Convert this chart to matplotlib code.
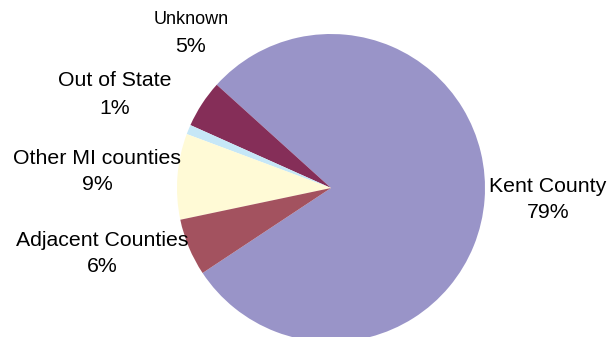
import matplotlib.pyplot as plt

# Share of records by place of residence
categories = ["Kent County", "Unknown", "Out of State", "Other MI counties", "Adjacent Counties"]
shares = [79, 5, 1, 9, 6]
colors = ["#9994c8", "#852e58", "#c6e7f7", "#fffad6", "#a3525f"]

plt.rcParams["font.family"] = ["Liberation Sans", "DejaVu Sans"]

W, H = 609, 337
fig = plt.figure(figsize=(W / 100, H / 100), dpi=100)
# pie centred around (331, 188) px with radius ~154 px
r = 154
ax = fig.add_axes([(331 - r) / W, (H - 188 - r) / H, 2 * r / W, 2 * r / H])
ax.pie(shares, colors=colors, startangle=213.5, counterclock=True,
       wedgeprops=dict(linewidth=0))
ax.set_xlim(-1, 1)
ax.set_ylim(-1, 1)
ax.axis("off")

# label anchors in pixels: x center, y of name line, y of percent line
label_pos = {
    "Kent County": (548, 187, 213),
    "Unknown": (191, 19, 46),
    "Out of State": (115, 81, 108),
    "Other MI counties": (97, 158, 185),
    "Adjacent Counties": (102, 240, 267),
}
for name, val in zip(categories, shares):
    x, y1, y2 = label_pos[name]
    name_fs = 13 if name == "Unknown" else 15.3
    fig.text(x / W, 1 - y1 / H, name, ha="center", va="center", fontsize=name_fs)
    fig.text(x / W, 1 - y2 / H, f"{val}%", ha="center", va="center", fontsize=15.3)

fig.savefig("out.png", dpi=100)
